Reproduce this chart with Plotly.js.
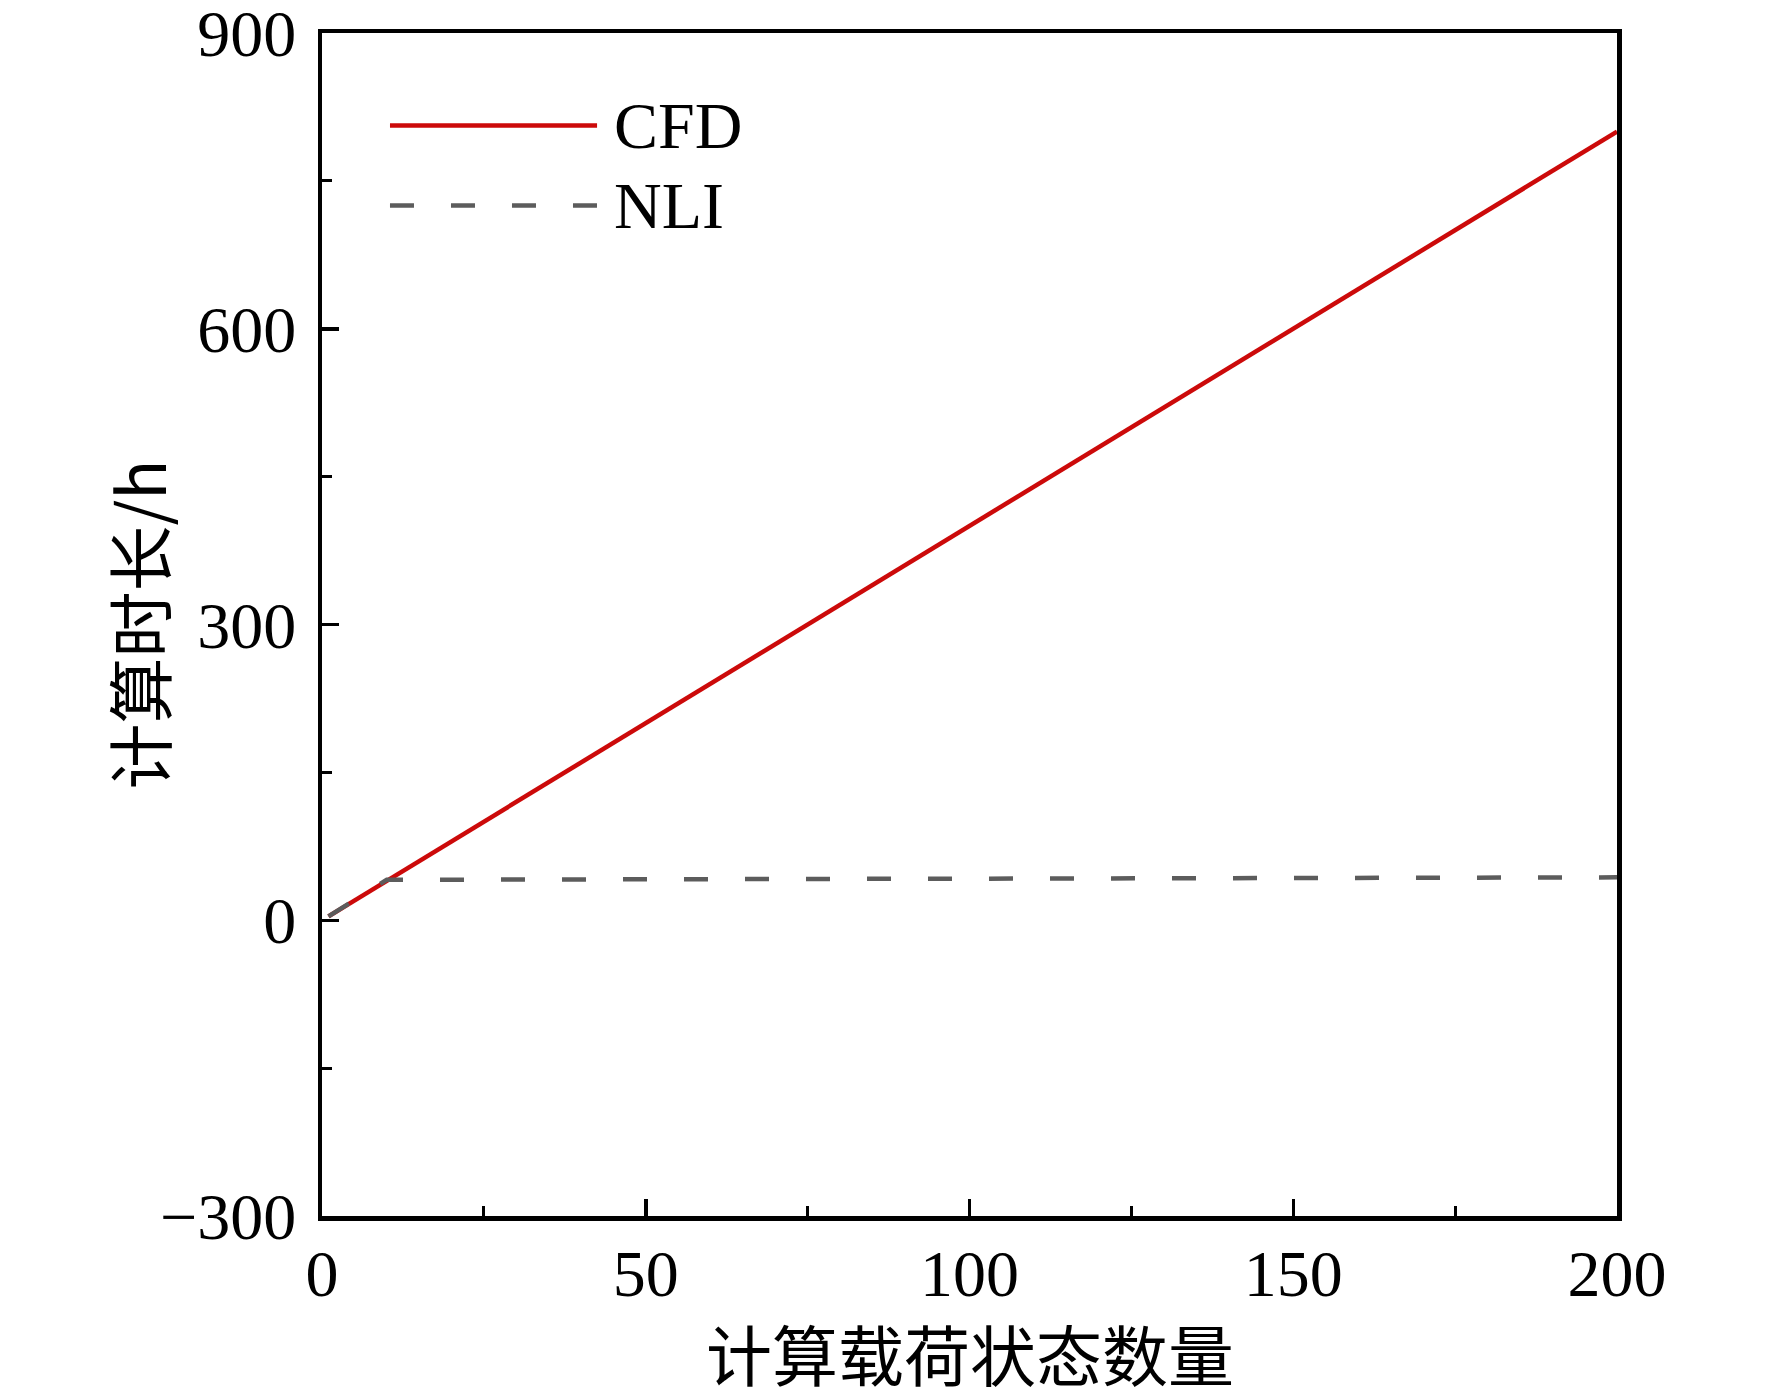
<!DOCTYPE html>
<html>
<head>
<meta charset="utf-8">
<script src="https://cdn.plot.ly/plotly-3.0.1.min.js"></script>
<style>
  html, body { margin: 0; padding: 0; background: #fff; }
  #chart { width: 1772px; height: 1398px; }
</style>
</head>
<body>
<div id="chart"></div>
<script>
// Computation time vs. number of load states
const states = [1, 10, 50, 100, 150, 200];
const cfdHours = [4, 40, 200, 400, 600, 800];
const nliStates = [1, 10, 200];
const nliHours = [4, 41, 43.5];

const xTicks = [0, 50, 100, 150, 200];
const yTicks = [-300, 0, 300, 600, 900];

const seriesNames = ['CFD', 'NLI'];
const seriesColors = ['#cc0a0a', '#5c5c5c'];
const seriesDash = ['solid', '24px,37px'];

const xTitle = '计算载荷状态数量';
const yTitle = '计算时长/h';

const fontMain = '"Liberation Serif", "Times New Roman", "Noto Sans CJK SC", serif';
const fontCjk = '"Noto Sans CJK SC", "Liberation Serif", serif';

const axisBase = {
  showline: true,
  linecolor: '#000',
  linewidth: 4.5,
  mirror: true,
  showgrid: false,
  zeroline: false,
  ticks: 'inside',
  ticklen: 17,
  tickwidth: 3.5,
  tickcolor: '#000',
  ticklabeloverflow: 'allow',
  tickfont: { family: fontMain, size: 66, color: '#000' },
  minor: { ticks: 'inside', ticklen: 10, tickwidth: 3, tickcolor: '#000' }
};

const traces = [
  {
    type: 'scatter', mode: 'lines', name: seriesNames[0],
    x: states, y: cfdHours,
    line: { color: seriesColors[0], width: 4.5 }
  },
  {
    type: 'scatter', mode: 'lines', name: seriesNames[1],
    x: nliStates, y: nliHours,
    line: { color: seriesColors[1], width: 4.5, dash: seriesDash[1] }
  }
];

// Legend drawn by hand so its spacing matches the figure
const legendRows = [0.9218, 0.8542];
const legendShapes = seriesNames.map((n, i) => ({
  type: 'line', xref: 'paper', yref: 'paper',
  x0: 0.0525, x1: 0.2124, y0: legendRows[i], y1: legendRows[i],
  line: { color: seriesColors[i], width: 4.5, dash: seriesDash[i] }
}));
const legendLabels = seriesNames.map((n, i) => ({
  xref: 'paper', yref: 'paper', x: 0.224, y: legendRows[i],
  xanchor: 'left', yanchor: 'middle', showarrow: false,
  text: n, font: { family: fontMain, size: 66, color: '#000' }
}));

const titles = [
  {
    xref: 'paper', yref: 'paper', x: 0.5, y: -0.115,
    xanchor: 'center', yanchor: 'middle', showarrow: false,
    text: xTitle, font: { family: fontCjk, size: 66, color: '#000' }
  },
  {
    xref: 'paper', yref: 'paper', x: -0.1436, y: 0.5,
    xanchor: 'center', yanchor: 'middle', showarrow: false, textangle: -90,
    text: yTitle, font: { family: fontCjk, size: 66, color: '#000' }
  }
];

const layout = {
  width: 1772,
  height: 1398,
  margin: { l: 322, r: 155, t: 33, b: 182 },
  paper_bgcolor: '#fff',
  plot_bgcolor: '#fff',
  showlegend: false,
  xaxis: {
    ...axisBase,
    range: [0, 200],
    tickvals: xTicks,
    ticktext: xTicks.map(String),
    minor: { ...axisBase.minor, dtick: 25, tick0: 0 },
    ticklabelstandoff: -4
  },
  yaxis: {
    ...axisBase,
    range: [-300, 900],
    tickvals: yTicks,
    ticktext: yTicks.map(v => v < 0 ? '\u2212' + Math.abs(v) : String(v)),
    minor: { ...axisBase.minor, dtick: 150, tick0: 0 },
    ticklabelstandoff: 8
  },
  shapes: legendShapes,
  annotations: [...legendLabels, ...titles]
};

Plotly.newPlot('chart', traces, layout, { displayModeBar: false, staticPlot: true });
</script>
</body>
</html>
